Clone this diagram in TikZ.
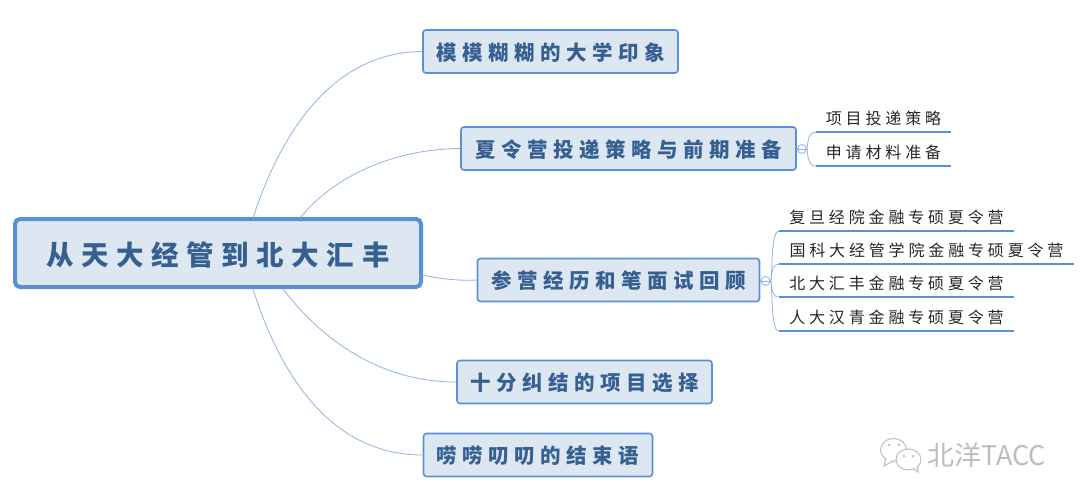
\documentclass[tikz,border=0pt]{standalone}
\usepackage{fontspec}
\newfontfamily\rootfont[LetterSpace=27.5]{Noto Sans CJK SC}
\newfontfamily\topicfont[LetterSpace=27]{Noto Sans CJK SC}
\newfontfamily\subfont[LetterSpace=24]{Noto Sans CJK SC}
\newfontfamily\markfont{Noto Sans CJK SC}
\definecolor{boxfill}{HTML}{DDE7F2}
\definecolor{boxline}{HTML}{5A91D6}
\definecolor{boxtext}{HTML}{366092}
\definecolor{branchline}{HTML}{8DB3E2}
\definecolor{markgray}{HTML}{BDBDBD}
\tikzset{
  roottopic/.style={draw=boxline,fill=boxfill,line width=4pt,rounded corners=5pt,inner sep=0pt,text height=28pt,text depth=3pt,text=boxtext,font=\rootfont\bfseries\fontsize{27.5}{28}\selectfont},
  topicbox/.style={draw=boxline,fill=boxfill,line width=1.6pt,rounded corners=3pt,inner sep=0pt,minimum height=43pt,text height=20pt,text depth=2.5pt,text=boxtext,font=\topicfont\bfseries\fontsize{20.5}{21}\selectfont},
  subtopic/.style={inner sep=0pt,minimum height=28pt,text=black!85,font=\subfont\fontsize{16}{16}\selectfont},
  subline/.style={draw=boxline,line width=2pt},
  branch/.style={draw=branchline,line width=0.8pt},
  toggle/.style={circle,draw=branchline,fill=white,line width=0.8pt,inner sep=0pt,minimum size=9pt}
}
\begin{document}
\begin{tikzpicture}[x=1pt,y=-1pt]
\useasboundingbox (0,0) rectangle (1080,503);
\node[roottopic,minimum width=406pt,minimum height=68pt] (root) at (218,253) {从天大经管到北大汇丰};
\node[topicbox,minimum width=255pt] (impress) at (550.5,51.5) {模模糊糊的大学印象};
\node[topicbox,minimum width=335pt] (camp) at (628.5,148.5) {夏令营投递策略与前期准备};
\node[topicbox,minimum width=282pt] (review) at (618.5,280) {参营经历和笔面试回顾};
\node[topicbox,minimum width=255pt] (choice) at (584.5,382) {十分纠结的项目选择};
\node[topicbox,minimum width=229pt] (ending) at (538,455) {唠唠叨叨的结束语};

\coordinate (rootA) at (253,218);
\coordinate (rootB) at (300,218);
\coordinate (rootC) at (422,275);
\coordinate (rootD) at (283,289);
\coordinate (rootE) at (253,289);
\draw[branch] (rootA) .. controls (285,120) and (340,52) .. (impress.west);
\draw[branch] (rootB) .. controls (335,175) and (395,149) .. (camp.west);
\draw[branch] (rootC) .. controls (440,279) and (460,281) .. (review.west);
\draw[branch] (rootD) .. controls (330,350) and (390,382) .. (choice.west);
\draw[branch] (rootE) .. controls (285,390) and (340,455) .. (ending.west);

\node[toggle] (campT) at (802,149) {};
\node[toggle] (reviewT) at (765.5,281) {};
\draw[branch] (campT.west) -- (camp.east);
\draw[branch] (reviewT.west) -- (review.east);
\draw[branch] (campT.west) -- (campT.east);
\draw[branch] (reviewT.west) -- (reviewT.east);

\node[subtopic,minimum width=135pt,minimum height=27pt] (plan) at (883.5,118.5) {项目投递策略};
\node[subtopic,minimum width=135pt,minimum height=27pt] (prep) at (883.5,152.5) {申请材料准备};
\node[subtopic,minimum width=235pt] (fudan) at (896.5,217) {复旦经院金融专硕夏令营};
\node[subtopic,minimum width=295pt] (ustc) at (926.5,250) {国科大经管学院金融专硕夏令营};
\node[subtopic,minimum width=235pt] (phbs) at (896.5,283) {北大汇丰金融专硕夏令营};
\node[subtopic,minimum width=235pt] (hanqing) at (896.5,317) {人大汉青金融专硕夏令营};
\foreach \sub in {plan,prep,fudan,ustc,phbs,hanqing}
  \draw[subline] (\sub.south west) -- (\sub.south east);

\draw[branch] (campT.east) .. controls (808,149) and (806,132) .. (plan.south west);
\draw[branch] (campT.east) .. controls (808,149) and (806,166) .. (prep.south west);
\draw[branch] (reviewT.east) .. controls (773,281) and (770,231) .. (fudan.south west);
\draw[branch] (reviewT.east) .. controls (772,281) and (770,264) .. (ustc.south west);
\draw[branch] (reviewT.east) .. controls (772,281) and (770,297) .. (phbs.south west);
\draw[branch] (reviewT.east) .. controls (773,281) and (770,331) .. (hanqing.south west);

\draw[markgray,line width=1pt,fill=white] (893.5,450) ellipse (13pt and 11.5pt);
\draw[markgray,line width=1pt,fill=white] (886,458) -- (884,466) -- (893,461);
\draw[markgray,line width=1pt,fill=white] (908.5,459.5) ellipse (12.5pt and 10.5pt);
\draw[markgray,line width=1pt,fill=white] (913,468) -- (918,472) -- (917,466);
\fill[markgray] (889,445) circle (1.3pt) (899,445) circle (1.3pt) (904,456) circle (1.3pt) (913,456) circle (1.3pt);
\node[text=markgray,inner sep=0pt,font=\markfont\fontsize{27}{27}\selectfont] (mark) at (986.5,455) {北洋TACC};
\end{tikzpicture}
\end{document}
